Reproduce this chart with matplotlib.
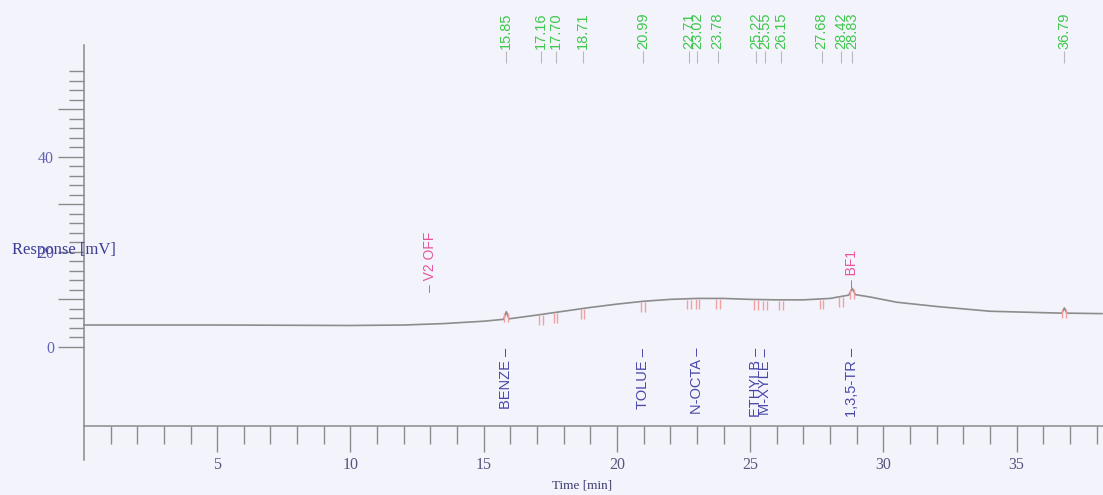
import numpy as np
import matplotlib
matplotlib.use("Agg")
import matplotlib.pyplot as plt
from matplotlib.ticker import FixedLocator, MultipleLocator

# detector trace (time in min, response in mV)
trace_t = [0, 5, 10, 12, 13.5, 15, 15.75, 15.85, 15.95, 17, 18, 19, 20, 21, 22,
           23, 24, 25, 26, 27, 28, 28.7, 28.83, 28.95, 29.5, 30.5, 32, 34, 36,
           36.7, 36.79, 36.88, 38.2]
trace_mv = [4.6, 4.6, 4.5, 4.6, 4.9, 5.4, 5.8, 7.4, 5.9, 6.7, 7.5, 8.3, 9.0, 9.6, 10.0,
            10.2, 10.2, 10.0, 9.9, 9.9, 10.2, 10.9, 12.3, 11.0, 10.5, 9.4, 8.5, 7.5, 7.2,
            7.1, 8.2, 7.1, 7.0]

# retention times printed on top
rt = [15.85, 17.16, 17.70, 18.71, 20.99, 22.71, 23.02, 23.78, 25.22, 25.55,
      26.15, 27.68, 28.42, 28.83, 36.79]

# identified peaks
peak_names = ["BENZE", "TOLUE", "N-OCTA", "ETHYLB", "M-XYLE", "1,3,5-TR"]
peak_rt = [15.85, 20.99, 23.02, 25.22, 25.55, 28.83]

# events
event_names = ["V2 OFF", "BF1"]
event_t = [12.98, 28.83]
event_y = [11.6, 12.6]

bg = "#f3f3fb"
fig = plt.figure(figsize=(11.03, 4.95), dpi=100, facecolor=bg)
ax = fig.add_axes([0, 0, 1, 1], facecolor=bg)

ax.set_xlim(-3.15, 38.24)
ax.set_ylim(-31.2, 73.05)

ax.plot(trace_t, trace_mv, color="#8c8c8c", lw=1.2)

# start/end markers of each integrated peak
base = np.interp(rt, trace_t, trace_mv)
for t, b in zip(rt, base):
    ax.vlines([t - 0.07, t + 0.07], b - 2.2, b - 0.2, color="#f0a0a0", lw=1.0)

# retention time labels at the top
for t in rt:
    ax.text(t, 62.7, "%.2f" % t, rotation=90, ha="center", va="bottom",
            color="#3ec84c", fontsize=10.5, family="Liberation Sans")
    ax.vlines(t, 59.8, 62.4, color="#b8b8c0", lw=0.8)

for name, t in zip(peak_names, peak_rt):
    ax.text(t, -0.2, name + " \u2013", rotation=90, ha="center", va="top",
            color="#4a48a8", fontsize=10.5, family="Liberation Sans")

for name, t, y in zip(event_names, event_t, event_y):
    ax.text(t, y, "\u2013 " + name, rotation=90, ha="center", va="bottom",
            color="#e8559c", fontsize=10, family="Liberation Sans")

# axes drawn like the recorder printout
for s in ["top", "right"]:
    ax.spines[s].set_visible(False)
ax.spines["left"].set_position(("data", 0))
ax.spines["bottom"].set_position(("data", -16.6))
ax.spines["left"].set_bounds(-23.8, 63.6)
ax.spines["bottom"].set_bounds(0, 38.24)
for s in ["left", "bottom"]:
    ax.spines[s].set_color("#8a8a8a")
    ax.spines[s].set_linewidth(1.1)

ax.xaxis.set_major_locator(FixedLocator([5, 10, 15, 20, 25, 30, 35]))
ax.xaxis.set_minor_locator(FixedLocator([m for m in range(1, 39) if m % 5]))
ax.yaxis.set_major_locator(MultipleLocator(10))
ax.yaxis.set_minor_locator(FixedLocator([m for m in range(2, 60, 2) if m % 10]))
ax.set_yticks([0, 10, 20, 30, 40, 50])
ax.set_yticklabels(["0", "", "20", "", "40", ""])

ax.tick_params(axis="x", which="major", direction="out", length=18.5, width=1,
               color="#8a8a8a", pad=4, labelsize=11.5, labelcolor="#55557f")
ax.tick_params(axis="x", which="minor", direction="out", length=13, width=1,
               color="#8a8a8a")
ax.tick_params(axis="y", which="major", direction="out", length=18.5, width=1,
               color="#8a8a8a", pad=3, labelsize=11.5, labelcolor="#6464b4")
ax.tick_params(axis="y", which="minor", direction="out", length=11, width=1,
               color="#8a8a8a")
for lab in ax.get_xticklabels() + ax.get_yticklabels():
    lab.set_family("Liberation Serif")

ax.text(-2.70, 20.4, "Response [mV]", ha="left", va="center", color="#3c3c96",
        fontsize=12, family="Liberation Serif")
ax.text(18.7, -29.3, "Time [min]", ha="center", va="center", color="#3c3c6e",
        fontsize=9.5, family="Liberation Serif")

fig.savefig("out.png", dpi=100, facecolor=bg)
